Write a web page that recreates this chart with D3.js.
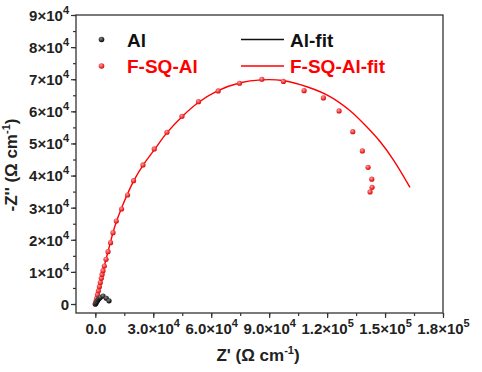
<!DOCTYPE html>
<html>
<head>
<meta charset="utf-8">
<script src="https://d3js.org/d3.v7.min.js"></script>
<style>
    body { margin: 0; padding: 0; background: #fff; }
    text { font-family: 'Liberation Sans', Arial, sans-serif; font-weight: bold; }
</style>
</head>
<body>
<div id="chart"></div>
<script>
    // Nyquist data (Z' , -Z'')
    let alZ    = [0, 500, 1000, 1500, 2000, 2600, 4000, 5700, 7100];
    let alZim  = [0, 400, 900, 1400, 1800, 2100, 2500, 1800, 1000];
    let alFitZ   = [0, 1000, 2000, 2600, 4000, 5700, 7100];
    let alFitZim = [0, 900, 1800, 2100, 2500, 1800, 1000];

    let sqZ   = [0, 300, 700, 1100, 1600, 2100, 2600, 3100, 3500, 3980, 4650, 5530, 6570, 7910, 9150,
                 10860, 13600, 16700, 19810, 24670, 30510, 37080, 44840, 53430, 63620, 74630, 86220,
                 97390, 108090, 118080, 126200, 133280, 138250, 141200, 143110, 143270, 142230];
    let sqZim = [0, 800, 1800, 2900, 4100, 5400, 6700, 8000, 9200, 10370, 11840, 13920, 16290, 19090, 22210,
                 25850, 29590, 33950, 38410, 43300, 48280, 53480, 58470, 63020, 66350, 68750, 69990,
                 69310, 66440, 64170, 60120, 53670, 47660, 42580, 38880, 36350, 34890];
    let sqFitZ   = [0, 2000, 4000, 7000, 10000, 14000, 20000, 25000, 31000, 37000, 45000, 53000, 63000,
                    75000, 86000, 97000, 110300, 121500, 131900, 140500, 147400, 154300, 162900];
    let sqFitZim = [0, 5200, 10300, 17300, 24000, 30500, 38500, 43500, 48400, 53300, 58400, 62600, 66300,
                    68900, 69800, 69600, 67500, 64600, 60200, 55200, 50600, 44900, 36350];

    let xTicks = [0, 30000, 60000, 90000, 120000, 150000, 180000];
    let xTickLabels = [["0.0", ""], ["3.0×10", "4"], ["6.0×10", "4"], ["9.0×10", "4"],
                       ["1.2×10", "5"], ["1.5×10", "5"], ["1.8×10", "5"]];
    let yTicks = [0, 10000, 20000, 30000, 40000, 50000, 60000, 70000, 80000, 90000];
    let yTickLabels = [["0", ""], ["1×10", "4"], ["2×10", "4"], ["3×10", "4"], ["4×10", "4"],
                       ["5×10", "4"], ["6×10", "4"], ["7×10", "4"], ["8×10", "4"], ["9×10", "4"]];

    let width = 482, height = 372;
    let pLeft = 76, pRight = 443, pTop = 15, pBottom = 313;

    let svg = d3.select("#chart").append("svg")
        .attr("width", width)
        .attr("height", height);

    let x = d3.scaleLinear().domain([-10000, 180000]).range([pLeft, pRight]);
    let y = d3.scaleLinear().domain([-2800, 90000]).range([pBottom, pTop]);

    let axisColor = "#333";

    // minor ticks
    svg.append("g")
        .attr("transform", "translate(0," + pBottom + ")")
        .call(d3.axisBottom(x).tickValues(d3.range(0, 180001, 15000)).tickSize(3).tickFormat(""))
        .call(g => g.select(".domain").remove());
    svg.append("g")
        .attr("transform", "translate(" + pLeft + ",0)")
        .call(d3.axisLeft(y).tickValues(d3.range(0, 90001, 5000)).tickSize(3).tickFormat(""))
        .call(g => g.select(".domain").remove());

    // major ticks
    let xAxis = svg.append("g")
        .attr("transform", "translate(0," + pBottom + ")")
        .call(d3.axisBottom(x).tickValues(xTicks).tickSize(5).tickFormat(""));
    let yAxis = svg.append("g")
        .attr("transform", "translate(" + pLeft + ",0)")
        .call(d3.axisLeft(y).tickValues(yTicks).tickSize(5).tickFormat(""));

    svg.selectAll(".tick line").attr("stroke", axisColor).attr("stroke-width", 1.2);
    svg.selectAll(".domain").remove();

    // tick labels with superscripts
    xAxis.selectAll(".tick text").each(function(d, i) {
        let t = d3.select(this).attr("font-size", 15).attr("fill", "#222").attr("y", 21).attr("dy", null);
        t.append("tspan").text(xTickLabels[i][0]);
        t.append("tspan").attr("font-size", 11).attr("dy", -7).text(xTickLabels[i][1]);
    });
    yAxis.selectAll(".tick text").each(function(d, i) {
        let t = d3.select(this).attr("font-size", 15).attr("fill", "#222").attr("dy", "0.36em").attr("x", -7);
        t.append("tspan").text(yTickLabels[i][0]);
        t.append("tspan").attr("font-size", 11).attr("dy", -7).text(yTickLabels[i][1]);
    });

    // frame
    svg.append("rect")
        .attr("x", pLeft).attr("y", pTop)
        .attr("width", pRight - pLeft).attr("height", pBottom - pTop)
        .attr("fill", "none").attr("stroke", axisColor).attr("stroke-width", 1.3);

    // fit lines
    let line = d3.line()
        .x(d => x(d[0]))
        .y(d => y(d[1]))
        .curve(d3.curveCatmullRom);

    svg.append("path")
        .datum(d3.zip(sqFitZ, sqFitZim))
        .attr("d", line)
        .attr("fill", "none").attr("stroke", "#ff0000").attr("stroke-width", 1.4);
    svg.append("path")
        .datum(d3.zip(alFitZ, alFitZim))
        .attr("d", line)
        .attr("fill", "none").attr("stroke", "#111").attr("stroke-width", 1.4);

    // points
    let defs = svg.append("defs");
    function ball(id, light, base) {
        let g = defs.append("radialGradient").attr("id", id).attr("cx", "40%").attr("cy", "35%").attr("r", "65%");
        g.append("stop").attr("offset", "0%").attr("stop-color", light);
        g.append("stop").attr("offset", "100%").attr("stop-color", base);
    }
    ball("redBall", "#ff9a9a", "#e00000");
    ball("blackBall", "#888", "#000");

    svg.append("g").selectAll("circle")
        .data(d3.zip(sqZ, sqZim))
        .enter().append("circle")
        .attr("cx", d => x(d[0]))
        .attr("cy", d => y(d[1]))
        .attr("r", 2.6)
        .attr("fill", "url(#redBall)");

    svg.append("g").selectAll("circle")
        .data(d3.zip(alZ, alZim))
        .enter().append("circle")
        .attr("cx", d => x(d[0]))
        .attr("cy", d => y(d[1]))
        .attr("r", 2.6)
        .attr("fill", "url(#blackBall)");

    // legend
    let legend = [
        {name: "Al", fit: "Al-fit", c: "#111", ball: "url(#blackBall)", y: 39.5},
        {name: "F-SQ-Al", fit: "F-SQ-Al-fit", c: "#ff0000", ball: "url(#redBall)", y: 66}
    ];
    let lg = svg.append("g").selectAll("g").data(legend).enter().append("g");
    lg.append("circle").attr("cx", 101.5).attr("cy", d => d.y).attr("r", 2.8).attr("fill", d => d.ball);
    lg.append("text").attr("x", 127).attr("y", d => d.y + 7)
        .attr("font-size", 19).attr("fill", d => d.c).text(d => d.name);
    lg.append("line").attr("x1", 241).attr("x2", 284)
        .attr("y1", d => d.y).attr("y2", d => d.y)
        .attr("stroke", d => d.c).attr("stroke-width", 1.4);
    lg.append("text").attr("x", 290).attr("y", d => d.y + 7)
        .attr("font-size", 19).attr("fill", d => d.c).text(d => d.fit);

    // axis titles
    let xt = svg.append("text")
        .attr("x", 258).attr("y", 361)
        .attr("text-anchor", "middle").attr("font-size", 17).attr("fill", "#222");
    xt.append("tspan").text("Z' (Ω cm");
    xt.append("tspan").attr("font-size", 11).attr("dy", -7).text("-1");
    xt.append("tspan").attr("dy", 7).text(")");

    let yt = svg.append("text")
        .attr("transform", "translate(17,165) rotate(-90)")
        .attr("text-anchor", "middle").attr("font-size", 17).attr("fill", "#222");
    yt.append("tspan").text("-Z'' (Ω cm");
    yt.append("tspan").attr("font-size", 11).attr("dy", -7).text("-1");
    yt.append("tspan").attr("dy", 7).text(")");
</script>
</body>
</html>
